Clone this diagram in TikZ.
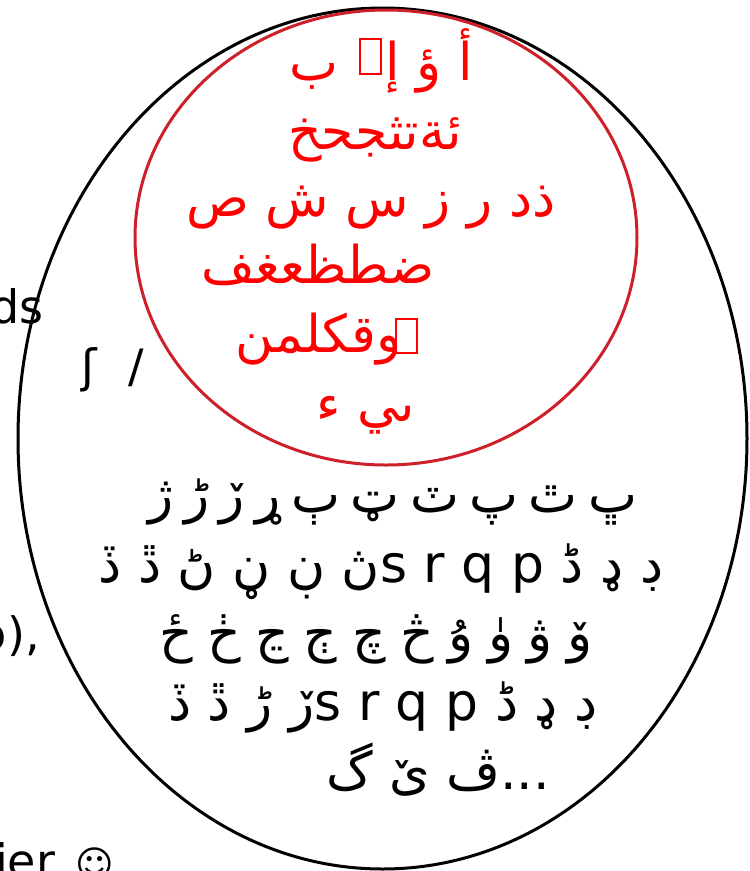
\documentclass[tikz,border=0pt]{standalone}
\usepackage{fontspec}
\setmainfont{DejaVu Sans}
\newfontfamily\arabicfont[Script=Arabic]{DejaVu Sans}
\TeXXeTstate=1
\definecolor{ringred}{RGB}{205,32,40}
\newcommand\notdefbox[1]{\hbox{\kern0.08em\raise#1\hbox{\setlength{\fboxsep}{0pt}\setlength{\fboxrule}{0.04em}\fbox{\rule{0pt}{0.62em}\hspace{0.36em}}}\kern0.08em}}
\tikzset{
  redtxt/.style={text=red, font=\arabicfont\fontsize{52}{56}\selectfont, anchor=base, inner sep=0pt},
  blktxt/.style={text=black, font=\arabicfont\fontsize{52}{56}\selectfont, anchor=base, inner sep=0pt},
  lattxt/.style={text=black, font=\fontsize{46}{50}\selectfont, inner sep=0pt},
  outerring/.style={draw=black, line width=3pt},
  innerring/.style={draw=ringred, line width=3pt}
}
\begin{document}
\begin{tikzpicture}[x=1pt, y=-1pt]
\useasboundingbox (0,0) rectangle (750,871);
% rings
\draw[outerring] (382.5,438.5) ellipse [x radius=364.5pt, y radius=430.5pt];
\draw[innerring] (386,237.5) ellipse [x radius=251pt, y radius=227.5pt];
% fragments at the left edge
\node[lattxt, anchor=base east] (ds) at (44,323) {ds};
\node[lattxt, anchor=base west] (esh) at (81,382) {ʃ\hspace{0.7em}/};
\node[lattxt, anchor=base east] (paren) at (40,650) {ɔ),};
\node[lattxt, anchor=base west] (ier) at (-5,877) {ier\hspace{0.45em}{\fontsize{37}{40}\selectfont ☺}};
% red lines
\node[redtxt] (r1) at (381,80) {\beginR أ ؤ إ\kern0pt\notdefbox{0.14em}\ ب\endR};
\node[redtxt] (r2) at (375,149) {\beginR ئةتثجحخ\endR};
\node[redtxt] (r3) at (371,216) {\beginR ذد ر ز س ش ص\endR};
\node[redtxt] (r4) at (318,283) {\beginR ضطظعغف\endR};
\node[redtxt] (r5) at (329,352) {\beginR\notdefbox{0em}\kern-0.2em وقكلمن\endR};
\node[redtxt] (r6) at (366,421) {\beginR ىي ء\endR};
% black lines
\node[blktxt] (b1) at (393,512) {\spaceskip=0.2em\relax\beginR ڀ ٿ پ ٽ ټ ٻ ړ ڒ ڑ ژ\endR};
\node[blktxt] (b2) at (381,582) {\beginR ڊ ډ ڈ p q r s\kern0pt ڽ ڹ ڼ ڻ ڐ ڏ\endR};
\node[blktxt] (b3) at (376,651) {\spaceskip=0.28em\relax\beginR ۆ ۋ ۈ ۇ څ چ ڄ ڃ ڂ ځ\endR};
\node[blktxt] (b4) at (383,720) {\beginR ڊ ډ ڈ p q r s\kern0pt ڒ ڑ ڐ ڏ\endR};
\node[blktxt] (b5) at (438,789) {\beginR ...\kern0pt ڤ ێ گ\endR};
\end{tikzpicture}
\end{document}
